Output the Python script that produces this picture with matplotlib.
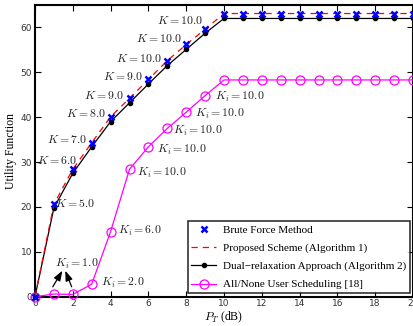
import numpy as np
import matplotlib
matplotlib.use("Agg")
import matplotlib.pyplot as plt

# --- DADOS ---
pt_db = list(range(0, 21))
brute = [0.0, 20.6, 28.4, 34.3, 40.1, 44.2, 48.4, 52.6, 56.2, 59.6] + [63.1] * 11
proposed = brute
dual = [0.0, 19.8, 27.5, 33.4, 39.0, 43.2, 47.4, 51.5, 55.1, 58.7] + [62.0] * 11
allnone = [0.0, 0.6, 0.5, 2.8, 14.5, 28.4, 33.4, 37.5, 41.1, 44.8] + [48.3] * 11

# rótulos K (à esquerda da curva superior)
k_text = ["5.0", "6.0", "7.0", "8.0", "9.0", "9.0", "10.0", "10.0", "10.0"]
k_x = [1.05, 2.2, 2.75, 3.75, 4.7, 5.7, 6.7, 7.75, 8.9]
k_y = [20.6, 30.3, 35.0, 40.8, 44.7, 48.9, 52.9, 57.5, 61.5]
ki_text = ["2.0", "6.0", "10.0", "10.0", "10.0", "10.0", "10.0"]
ki_x = [3.5, 4.4, 5.38, 6.44, 7.3, 8.47, 9.52]
ki_y = [3.0, 14.6, 27.5, 32.7, 36.9, 40.8, 44.5]

plt.rcParams["font.family"] = "Liberation Serif"
plt.rcParams["mathtext.fontset"] = "cm"

fig = plt.figure(figsize=(4.14, 3.26), dpi=100)
ax = fig.add_axes([35 / 414, 1 - 296.7 / 326, 378 / 414, 291.7 / 326])

ax.plot(pt_db, allnone, color="magenta", lw=0.9, marker="o", ms=6.5,
        mfc="none", mec="magenta", mew=0.9, clip_on=False, zorder=3,
        label="All/None User Scheduling [18]")
ax.plot(pt_db, dual, color="black", lw=0.9, marker="o", ms=3,
        clip_on=False, zorder=4, label="Dual\u2212relaxation Approach (Algorithm 2)")
ax.plot(pt_db, proposed, color="red", lw=0.9, ls=(0, (5, 4)),
        zorder=5, label="Proposed Scheme (Algorithm 1)")
ax.plot(pt_db, brute, ls="none", marker="x", ms=5, mew=1.8, color="blue",
        clip_on=False, zorder=6, label="Brute Force Method")

for t, x, y in zip(k_text, k_x, k_y):
    ha = "left" if x < 1.5 else "right"
    ax.text(x, y, r"$K = %s$" % t, ha=ha, va="center", fontsize=8.5, color="#222222")
for t, x, y in zip(ki_text, ki_x, ki_y):
    ax.text(x, y, r"$K_i = %s$" % t, ha="left", va="center", fontsize=8.5, color="#222222")
ax.text(1.06, 7.3, r"$K_i = 1.0$", ha="left", va="center", fontsize=8.5, color="#222222")

# setas para os marcadores de 1 e 2 dB
for x0, x1 in [(0.94, 1.45), (1.94, 1.6)]:
    ax.annotate("", xy=(x1, 5.8), xytext=(x0, 2.2),
                arrowprops=dict(arrowstyle="-|>,head_length=0.5,head_width=0.18",
                                color="black", lw=0.9, mutation_scale=12,
                                shrinkA=0, shrinkB=0))

ax.set_xlim(0, 20)
ax.set_ylim(0, 65)
ax.set_xticks(range(0, 21, 2))
ax.set_yticks(range(0, 61, 10))
ax.tick_params(direction="in", top=True, right=True, length=4, width=0.8,
               labelsize=6.5, labelcolor="#333333", pad=2)
for lab in ax.get_xticklabels() + ax.get_yticklabels():
    lab.set_fontfamily("DejaVu Sans")
for s in ax.spines.values():
    s.set_linewidth(1.5)

ax.set_xlabel(r"$P_T$ (dB)", fontsize=8.5, labelpad=1)
ax.set_ylabel("Utility Function", fontsize=8.5, labelpad=3)

h, l = ax.get_legend_handles_labels()
order = [3, 2, 1, 0]
leg = ax.legend([h[i] for i in order], [l[i] for i in order], loc="lower right",
                fontsize=8, frameon=True, fancybox=False, edgecolor="black",
                borderpad=0.35, labelspacing=0.75, handlelength=2.2,
                handletextpad=0.6, borderaxespad=0.3)
leg.get_frame().set_linewidth(1.2)

fig.savefig("out.png", dpi=100)
